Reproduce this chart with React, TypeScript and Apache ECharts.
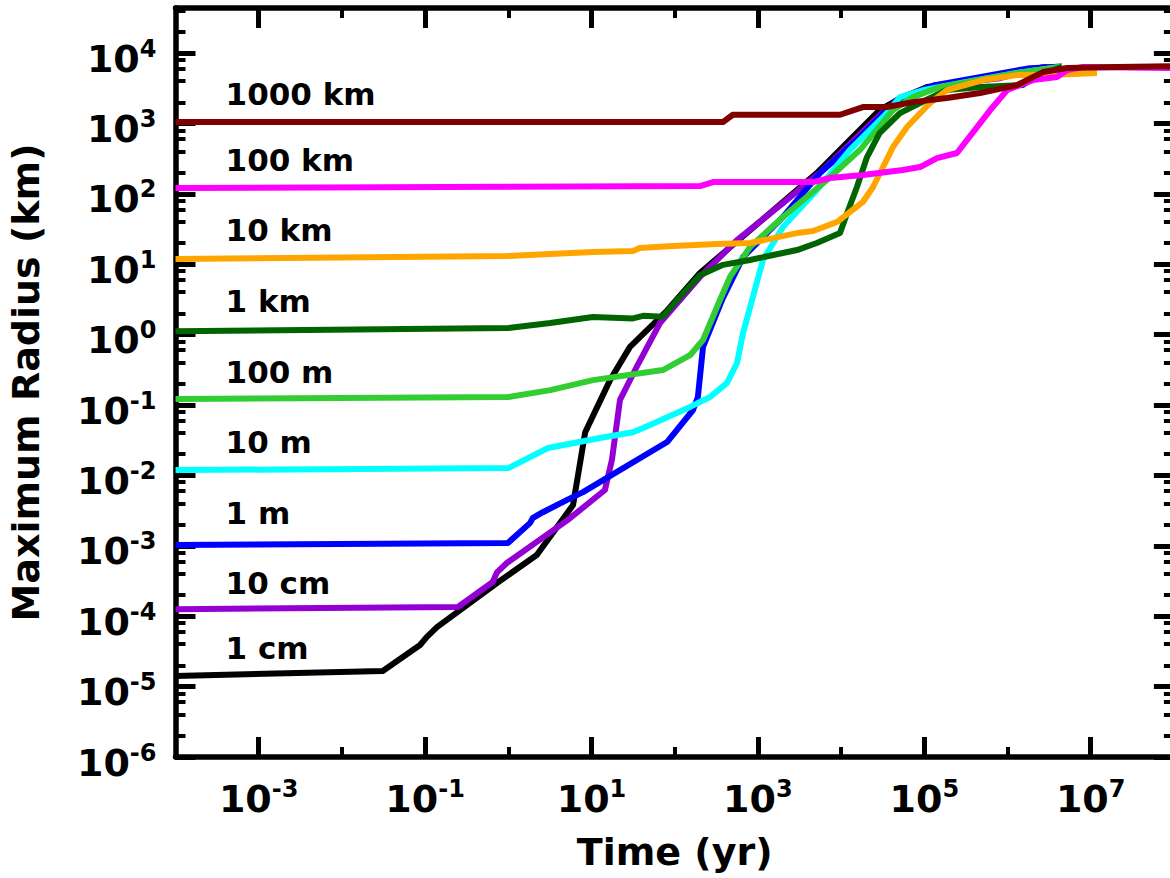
import React, { useEffect, useRef } from "react";
import * as echarts from "echarts";

const FONT = "DejaVu Sans";

// Axis extents (log10 of yr and km)
const xMinLog = -4;
const xMaxLog = 8;
const yMinLog = -6;
const yMaxLog = 4.64;

// Tick positions (log10)
const xMajorTicks = [-3, -1, 1, 3, 5, 7];
const xMinorTicks = [-2, 0, 2, 4, 6];
const yMajorTicks = [-6, -5, -4, -3, -2, -1, 0, 1, 2, 3, 4];
const yMinorMultipliers = [2, 4, 6, 8];

// Series names / colours
const seriesNames = ["1 cm", "10 cm", "1 m", "10 m", "100 m", "1 km", "10 km", "100 km", "1000 km"];
const seriesColors = ["#000000", "#9400D3", "#0000FF", "#00FFFF", "#32CD32", "#006400", "#FFA500", "#FF00FF", "#800000"];

// Time (yr) and maximum radius (km) for each initial size
const t1cm = [1e-4, 0.031, 0.087, 0.105, 0.139, 0.73, 2.2, 6.0, 8.4, 16.7, 29, 81, 201, 5100, 2.9e4, 4.7e4, 1.08e5, 4.7e5, 1.3e6, 2.7e6, 4.5e6];
const r1cm = [1.42e-5, 1.67e-5, 3.9e-5, 5.1e-5, 7.0e-5, 2.96e-4, 7.4e-4, 3.8e-3, 0.041, 0.226, 0.67, 2.2, 7.5, 197, 1550, 2150, 3290, 4130, 5200, 6300, 6400];

const t10cm = [1e-4, 0.248, 0.65, 0.73, 0.96, 5.1, 14.5, 17.6, 22, 35, 66.5, 201, 561, 2000, 6060, 2.94e4, 5.1e4, 1.35e5, 8.1e5, 2.7e6, 4.5e6];
const r10cm = [1.26e-4, 1.35e-4, 3.06e-4, 4.2e-4, 5.7e-4, 2.3e-3, 6.2e-3, 0.0166, 0.118, 0.35, 1.46, 6.6, 22, 74, 218, 1320, 2300, 3500, 4400, 6300, 6400];

const t1m = [1e-4, 0.99, 1.82, 1.98, 2.6, 5.1, 7.9, 81, 166, 190, 219, 370, 662, 2000, 5570, 1.55e4, 3.55e4, 5.1e4, 1.35e5, 1.86e6, 4.5e6];
const r1m = [1.03e-3, 1.1e-3, 2.1e-3, 2.5e-3, 3.0e-3, 4.5e-3, 5.8e-3, 0.0298, 0.085, 0.13, 0.67, 3.1, 12.6, 47, 197, 580, 1550, 2300, 3500, 6100, 6400];

const t10m = [1e-4, 1.0, 3.0, 12.6, 31.5, 50.5, 153, 266, 426, 561, 663, 851, 1150, 2000, 5100, 1.27e4, 3.55e4, 5.1e4, 1.0e5, 3.2e5, 1.3e6, 4.5e6];
const r10m = [0.0119, 0.0127, 0.0245, 0.034, 0.041, 0.052, 0.094, 0.13, 0.206, 0.395, 1.05, 3.1, 11.5, 33.7, 113, 419, 1400, 2370, 3000, 3900, 5200, 6400];

const t100m = [1e-4, 1.0, 3.2, 10.4, 72, 153, 219, 350, 462, 803, 2000, 6750, 1.68e4, 4.2e4, 7.3e4, 1.54e5, 3.25e5, 1.3e6, 4.5e6];
const r100m = [0.122, 0.13, 0.163, 0.226, 0.314, 0.51, 0.84, 3.1, 6.6, 17.5, 47, 157, 419, 1550, 2370, 3290, 3870, 5200, 6400];

const t1km = [1e-4, 1.0, 3.2, 10.4, 31.5, 41.6, 72, 107, 201, 381, 803, 2950, 5100, 9700, 1.18e4, 1.55e4, 2.05e4, 2.9e4, 5.1e4, 8.9e4, 1.87e5, 4.7e5, 1.53e6, 1.86e6, 4.5e6];
const r1km = [1.12, 1.24, 1.46, 1.78, 1.7, 1.85, 1.8, 3.1, 7.0, 9.8, 11.5, 15.9, 20, 27.7, 53, 125, 333, 731, 1400, 1950, 2980, 3290, 3510, 4130, 6400];

const t10km = [1e-4, 1.0, 10.4, 31.5, 38, 95, 322, 803, 2950, 4600, 8900, 1.83e4, 2.42e4, 4.2e4, 6.2e4, 1.17e5, 1.87e5, 5.07e5, 1.3e6, 3.2e6, 1.19e7];
const r10km = [11.9, 13.1, 14.9, 15.4, 17, 18.1, 19.4, 20, 27.7, 29.6, 39.8, 76.6, 125, 462, 889, 1950, 2980, 4130, 4860, 4860, 5200];

const t100km = [1e-4, 201, 289, 4600, 7360, 1.83e4, 5.5e4, 8.9e4, 1.42e5, 2.47e5, 6.2e5, 9.9e5, 2.02e6, 3.93e6, 5.2e6, 8.1e6, 1e8];
const r100km = [121, 129, 147, 147, 168, 185, 218, 240, 322, 380, 1550, 2980, 4130, 4560, 5740, 6330, 6120];

const t1000km = [1e-4, 380, 500, 9700, 1.83e4, 3.56e4, 7.3e4, 1.87e5, 4.67e5, 1.3e6, 2.67e6, 5.2e6, 2.07e7, 1e8];
const r1000km = [1047, 1047, 1330, 1330, 1710, 1710, 2010, 2300, 2700, 3500, 5370, 6120, 6330, 6530];

const seriesTimes = [t1cm, t10cm, t1m, t10m, t100m, t1km, t10km, t100km, t1000km];
const seriesRadii = [r1cm, r10cm, r1m, r10m, r100m, r1km, r10km, r100km, r1000km];

// In-plot labels: position (yr, km)
const labelTime = 4.0e-4;
const labelRadii = [3.53e-5, 2.95e-4, 2.92e-3, 0.0298, 0.294, 3.0, 30.6, 302, 2620];

function App() {
  const ref = useRef<HTMLDivElement>(null);

  useEffect(() => {
    if (!ref.current) return;
    const chart = echarts.init(ref.current, null, { renderer: "svg" });

    const yMinorTicks: number[] = [];
    for (let n = yMinLog; n <= Math.floor(yMaxLog); n++) {
      for (const k of yMinorMultipliers) {
        const v = n + Math.log10(k);
        if (v < yMaxLog) yMinorTicks.push(v);
      }
    }

    const tickLabelRich = {
      b: { fontSize: 38, fontWeight: "bold", fontFamily: FONT, color: "#000", lineHeight: 44 },
      s: { fontSize: 24, fontWeight: "bold", fontFamily: FONT, color: "#000", lineHeight: 10, verticalAlign: "top" },
    };
    const powFmt = (v: number) => `{b|10}{s|${Math.round(v)}}`;

    const spine = { show: true, onZero: false, lineStyle: { color: "#000", width: 5.5 } };
    const noSpine = { show: false, onZero: false };
    const majorTick = (vals: number[]) => ({
      show: true, inside: true, length: 20, customValues: vals, lineStyle: { color: "#000", width: 5 },
    });
    const minorTick = (vals: number[]) => ({
      show: true, inside: true, length: 10, customValues: vals, lineStyle: { color: "#000", width: 4 },
    });
    const nameStyle = { fontSize: 38, fontWeight: "bold", fontFamily: FONT, color: "#000" };

    const baseX = { type: "value", min: xMinLog, max: xMaxLog, splitLine: { show: false }, gridIndex: 0 };
    const baseY = { type: "value", min: yMinLog, max: yMaxLog, splitLine: { show: false }, gridIndex: 0 };

    const lineSeries = seriesNames.map((name, i) => ({
      type: "line",
      name,
      xAxisIndex: 0,
      yAxisIndex: 0,
      showSymbol: false,
      symbol: "none",
      clip: true,
      z: 2 + i,
      lineStyle: { color: seriesColors[i], width: 6, join: "round", cap: "butt" },
      data: seriesTimes[i].map((t, j) => [Math.log10(t), Math.log10(seriesRadii[i][j])]),
    }));

    chart.setOption({
      animation: false,
      backgroundColor: "#fff",
      grid: { left: 175.5, right: -3.9, top: 8, bottom: 121, containLabel: false, outerBoundsMode: "none" },
      xAxis: [
        {
          ...baseX,
          position: "bottom",
          axisLine: spine,
          axisTick: majorTick(xMajorTicks),
          axisLabel: {
            show: true, customValues: xMajorTicks, formatter: powFmt, rich: tickLabelRich,
            margin: 9, padding: [11, 0, 0, 0],
          },
          name: "Time (yr)",
          nameLocation: "middle",
          nameGap: 76,
          nameTextStyle: nameStyle,
        },
        { ...baseX, position: "bottom", axisLine: noSpine, axisTick: minorTick(xMinorTicks), axisLabel: { show: false } },
        { ...baseX, position: "top", axisLine: spine, axisTick: majorTick(xMajorTicks), axisLabel: { show: false } },
        { ...baseX, position: "top", axisLine: noSpine, axisTick: minorTick(xMinorTicks), axisLabel: { show: false } },
      ],
      yAxis: [
        {
          ...baseY,
          position: "left",
          axisLine: spine,
          axisTick: majorTick(yMajorTicks),
          axisLabel: {
            show: true, customValues: yMajorTicks, formatter: powFmt, rich: tickLabelRich,
            margin: 19, padding: [11, 0, 0, 0],
          },
          name: "Maximum Radius (km)",
          nameLocation: "middle",
          nameGap: 131,
          nameTextStyle: nameStyle,
        },
        { ...baseY, position: "left", axisLine: noSpine, axisTick: minorTick(yMinorTicks), axisLabel: { show: false } },
        { ...baseY, position: "right", axisLine: spine, axisTick: majorTick(yMajorTicks), axisLabel: { show: false } },
        { ...baseY, position: "right", axisLine: noSpine, axisTick: minorTick(yMinorTicks), axisLabel: { show: false } },
      ],
      series: lineSeries,
    });

    // In-plot size labels, placed through the chart's own coordinate conversion
    const texts = seriesNames.map((name, i) => {
      const p = chart.convertToPixel({ xAxisIndex: 0, yAxisIndex: 0 }, [
        Math.log10(labelTime),
        Math.log10(labelRadii[i]),
      ]) as number[];
      return {
        type: "text",
        x: p[0],
        y: p[1],
        z: 100,
        silent: true,
        style: {
          text: name,
          fill: "#000",
          font: `bold 31px "${FONT}"`,
          textAlign: "left",
          textVerticalAlign: "middle",
          verticalAlign: "middle",
        },
      };
    });
    chart.setOption({ graphic: texts });

    return () => chart.dispose();
  }, []);

  return (
    <div
      ref={ref}
      style={{ position: "absolute", left: 0, top: 0, width: 1170, height: 878, background: "#fff" }}
    />
  );
}

export default App;
